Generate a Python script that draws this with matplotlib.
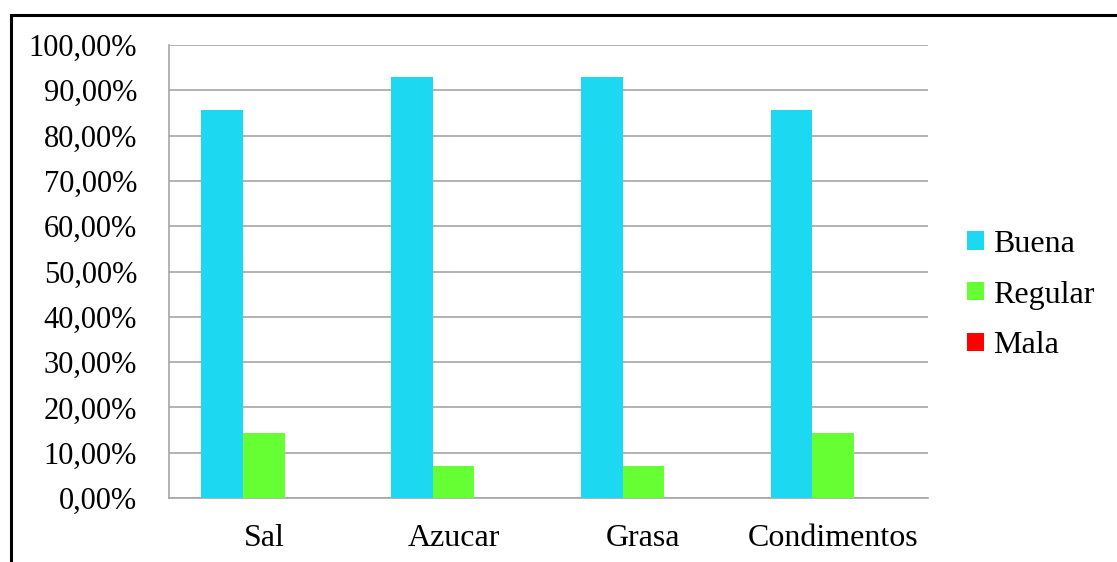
import matplotlib
matplotlib.use("Agg")
import matplotlib.pyplot as plt
import numpy as np
from matplotlib.patches import Rectangle

plt.rcParams.update({
    'font.family': 'serif',
    'font.serif': ['Liberation Serif', 'DejaVu Serif'],
    'font.size': 22,
})

categorias = ['Sal', 'Azucar', 'Grasa', 'Condimentos']
buena = [0.8571, 0.9286, 0.9286, 0.8571]
regular = [0.1429, 0.0714, 0.0714, 0.1429]
mala = [0.0, 0.0, 0.0, 0.0]
series = ['Buena', 'Regular', 'Mala']
colores = ['#1CD8F0', '#66FF33', '#FF0000']

W, H = 1117, 562
fig = plt.figure(figsize=(W / 100, H / 100), dpi=100)

# outer black frame (right and bottom edges fall off the canvas)
fig.patches.append(Rectangle((10.5 / W, -0.1), 1.2, 1 - 15 / H + 0.1,
                             transform=fig.transFigure, fill=False,
                             edgecolor='black', lw=2.2))

ax = fig.add_axes([169 / W, (H - 498) / H, (928 - 169) / W, (498 - 45) / H])

x = np.arange(len(categorias))
w = 0.22
bars = []
for i, (vals, name, col) in enumerate(zip([buena, regular, mala], series, colores)):
    b = ax.bar(x + (i - 1) * w, vals, w, color=col, label=name, zorder=3)
    bars.append(b)

ax.set_xlim(-0.5, len(categorias) - 0.5)
ax.set_ylim(0, 1.0)
ax.set_yticks(np.arange(0, 1.01, 0.1))
ax.set_yticklabels([f"{v * 100:.2f}%".replace('.', ',') for v in np.arange(0, 1.01, 0.1)])
ax.set_xticks(x)
ax.set_xticklabels(categorias, fontsize=23)
ax.tick_params(axis='y', length=0, pad=23)
ax.tick_params(axis='x', length=0, pad=19)

ax.grid(axis='y', color='#A6A6A6', lw=1.2, zorder=0)
for s in ['top', 'right']:
    ax.spines[s].set_visible(False)
for s in ['left', 'bottom']:
    ax.spines[s].set_color('#A6A6A6')
    ax.spines[s].set_linewidth(1.2)

fig.legend(handles=bars, labels=series, loc='center left',
           bbox_to_anchor=(967 / W, 1 - 295 / H), frameon=False,
           fontsize=23,
           handlelength=0.52, handleheight=0.52, handletextpad=0.3,
           labelspacing=0.68, borderpad=0, borderaxespad=0)

fig.savefig('out.png', dpi=100)
